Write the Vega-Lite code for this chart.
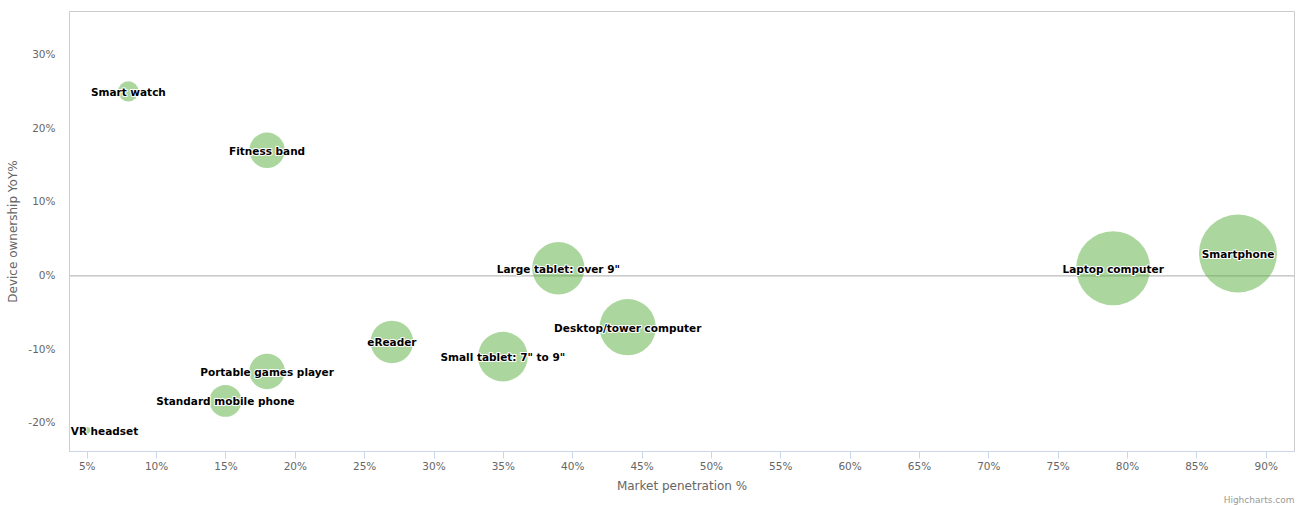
{
  "$schema": "https://vega.github.io/schema/vega-lite/v6.json",
  "width": 1225,
  "height": 440,
  "autosize": {"type": "none"},
  "padding": {"left": 69, "top": 11, "right": 7, "bottom": 54},
  "background": "#ffffff",
  "title": {
    "text": "Highcharts.com",
    "orient": "bottom",
    "anchor": "end",
    "fontSize": 9,
    "fontWeight": "normal",
    "font": "DejaVu Sans",
    "color": "#999999",
    "offset": 4
  },
  "config": {
    "view": {"stroke": "#cccccc", "strokeWidth": 1},
    "font": "DejaVu Sans",
    "axis": {
      "labelFont": "DejaVu Sans",
      "labelFontSize": 10.5,
      "labelColor": "#666666",
      "titleFont": "DejaVu Sans",
      "titleFontSize": 12,
      "titleFontWeight": "normal",
      "titleColor": "#666666",
      "grid": false
    }
  },
  "data": {
    "values": [
      {"name": "Smart watch", "x": 8, "y": 25, "z": 6.8},
      {"name": "Fitness band", "x": 18, "y": 17, "z": 20.7},
      {"name": "VR headset", "x": 5, "y": -21, "z": 0.8},
      {"name": "Standard mobile phone", "x": 15, "y": -17, "z": 16.7},
      {"name": "Portable games player", "x": 18, "y": -13, "z": 20.7},
      {"name": "eReader", "x": 27, "y": -9, "z": 29.8},
      {"name": "Small tablet: 7\" to 9\"", "x": 35, "y": -11, "z": 40.5},
      {"name": "Large tablet: over 9\"", "x": 39, "y": 1, "z": 45},
      {"name": "Desktop/tower computer", "x": 44, "y": -7, "z": 52},
      {"name": "Laptop computer", "x": 79, "y": 1, "z": 90},
      {"name": "Smartphone", "x": 88, "y": 3, "z": 100}
    ]
  },
  "encoding": {
    "x": {
      "field": "x",
      "type": "quantitative",
      "scale": {"domain": [3.72, 92.04], "nice": false, "zero": false},
      "axis": {
        "title": "Market penetration %",
        "values": [5, 10, 15, 20, 25, 30, 35, 40, 45, 50, 55, 60, 65, 70, 75, 80, 85, 90],
        "labelExpr": "datum.value + '%'",
        "domainColor": "#ccd6eb",
        "tickColor": "#ccd6eb",
        "tickSize": 7,
        "labelPadding": 3,
        "titlePadding": 9
      }
    },
    "y": {
      "field": "y",
      "type": "quantitative",
      "scale": {"domain": [-23.8, 35.9], "nice": false, "zero": false},
      "axis": {
        "title": "Device ownership YoY%",
        "values": [-20, -10, 0, 10, 20, 30],
        "labelExpr": "datum.value + '%'",
        "domain": false,
        "ticks": false,
        "tickSize": 0,
        "labelPadding": 14,
        "titlePadding": 8
      }
    }
  },
  "layer": [
    {
      "mark": {"type": "rule", "color": "#cccccc", "strokeWidth": 1},
      "encoding": {
        "y": {"datum": 0},
        "x": null
      }
    },
    {
      "mark": {"type": "circle", "color": "#58b03d", "opacity": 0.5},
      "encoding": {
        "size": {
          "field": "z",
          "type": "quantitative",
          "scale": {"domain": [0, 100], "range": [0, 6082], "zero": true},
          "legend": null
        }
      }
    },
    {
      "mark": {
        "type": "text",
        "font": "DejaVu Sans",
        "fontSize": 10.5,
        "fontWeight": "bold",
        "baseline": "middle",
        "dy": 1.5,
        "align": {"expr": "datum.x < 6 ? 'left' : 'center'"},
        "dx": {"expr": "datum.x < 6 ? -16 : 0"},
        "fill": "#ffffff",
        "stroke": "#ffffff",
        "strokeWidth": 2,
        "strokeJoin": "round"
      },
      "encoding": {"text": {"field": "name"}}
    },
    {
      "mark": {
        "type": "text",
        "font": "DejaVu Sans",
        "fontSize": 10.5,
        "fontWeight": "bold",
        "baseline": "middle",
        "dy": 1.5,
        "align": {"expr": "datum.x < 6 ? 'left' : 'center'"},
        "dx": {"expr": "datum.x < 6 ? -16 : 0"},
        "fill": "#000000"
      },
      "encoding": {"text": {"field": "name"}}
    }
  ]
}
